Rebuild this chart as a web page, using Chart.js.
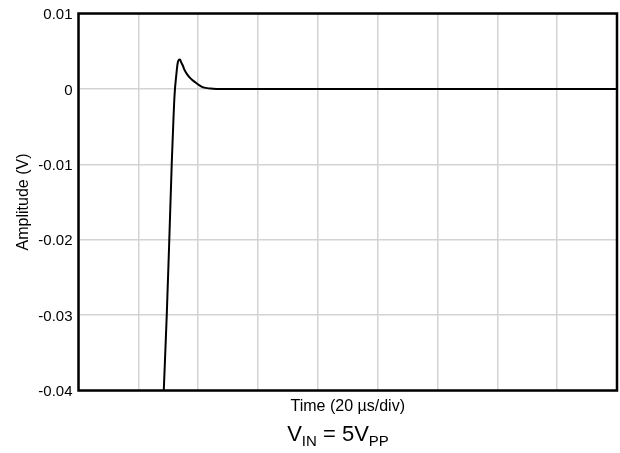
<!DOCTYPE html>
<html>
<head>
<meta charset="utf-8">
<script src="https://cdn.jsdelivr.net/npm/chart.js@4/dist/chart.umd.min.js"></script>
<style>
html,body{margin:0;padding:0;background:#fff;}
#wrap{position:relative;width:620px;height:453px;}
#caption{position:absolute;left:0;top:423px;width:676px;text-align:center;font-family:"Liberation Sans",Arial,sans-serif;font-size:22px;line-height:22px;color:#000;white-space:nowrap;}
#caption sub{font-size:15px;vertical-align:-5px;line-height:0;}
</style>
</head>
<body>
<div id="wrap">
<canvas id="c" width="620" height="453"></canvas>
<div id="caption">V<sub>IN</sub> = 5V<sub>PP</sub></div>
</div>
<script>
// Time in microseconds (20 µs/div, 9 divisions)
const timeUs = [28.5, 29.5, 30.35, 31.16, 31.72, 32.0, 32.25, 32.55, 32.83, 33.1, 33.45, 33.9, 34.35, 34.85, 35.45, 36.2, 37.45, 38.95, 40.3, 41.7, 44.0, 46.0, 60, 90, 120, 150, 180];
const amplitudeV = [-0.04, -0.03, -0.02, -0.01, -0.0042, -0.0016, 0, 0.0013, 0.0024, 0.0033, 0.0038, 0.0039, 0.0035, 0.0031, 0.0025, 0.0020, 0.0014, 0.0009, 0.0005, 0.0002, 0.00005, 0, 0, 0, 0, 0, 0];
const yTickLabels = ['-0.04', '-0.03', '-0.02', '-0.01', '0', '0.01'];
const xTitle = 'Time (20 µs/div)';
const yTitle = 'Amplitude (V)';

const points = timeUs.map((t, i) => ({x: t, y: amplitudeV[i]}));

const frame = {
  id: 'frame',
  afterDraw(chart) {
    const {ctx, chartArea: a} = chart;
    ctx.save();
    ctx.strokeStyle = '#000';
    ctx.lineWidth = 2.5;
    ctx.strokeRect(a.left, a.top, a.right - a.left, a.bottom - a.top);
    ctx.restore();
  }
};

const family = '"Liberation Sans", Arial, sans-serif';

new Chart(document.getElementById('c'), {
  type: 'line',
  data: {
    datasets: [{
      data: points,
      borderColor: '#000',
      borderWidth: 2,
      pointRadius: 0,
      cubicInterpolationMode: 'monotone',
      fill: false
    }]
  },
  options: {
    responsive: false,
    animation: false,
    layout: {padding: {top: 13, right: 3, bottom: 37, left: 0}},
    plugins: {legend: {display: false}, tooltip: {enabled: false}},
    scales: {
      x: {
        type: 'linear', min: 0, max: 180,
        ticks: {display: false, stepSize: 20},
        grid: {color: '#d3d3d3', lineWidth: 1.5, drawTicks: false},
        border: {display: false},
        title: {display: true, text: xTitle, color: '#000', font: {family, size: 16}, padding: 0},
        afterFit(s) { s.height = 25.5; }
      },
      y: {
        min: -0.04, max: 0.01,
        ticks: {stepSize: 0.01, color: '#000', font: {family, size: 15, lineHeight: 1}, padding: 6, labelOffset: 1.5,
          callback: (v, i) => yTickLabels[i]},
        grid: {color: '#d3d3d3', lineWidth: 1.5, drawTicks: false},
        border: {display: false},
        title: {display: true, text: yTitle, color: '#000', font: {family, size: 16}, padding: {top: 13.5, bottom: 0}},
        afterFit(s) { s.width = 78.5; }
      }
    }
  },
  plugins: [frame]
});
</script>
</body>
</html>
